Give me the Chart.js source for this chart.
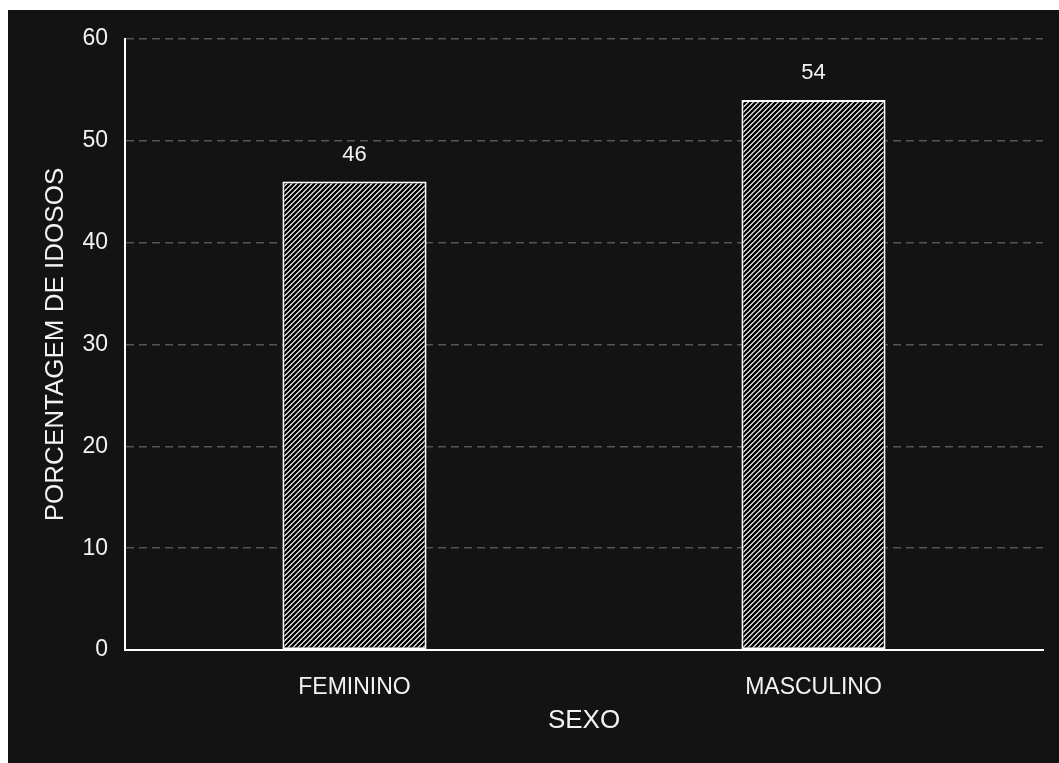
<!DOCTYPE html>
<html>
<head>
<meta charset="utf-8">
<script src="https://cdn.jsdelivr.net/npm/chart.js@4/dist/chart.umd.min.js"></script>
<style>
  html, body { margin: 0; padding: 0; background: #ffffff; }
  #wrap {
    position: absolute;
    left: 8px;
    top: 10px;
    width: 1051px;
    height: 753px;
    background: #131313;
  }
  #chart { display: block; }
</style>
</head>
<body>
<div id="wrap"><canvas id="chart" width="1051" height="753"></canvas></div>
<script>
var categories = ['FEMININO', 'MASCULINO'];
var percentages = [46, 54];
var yTicks = [0, 10, 20, 30, 40, 50, 60];
var xTitle = 'SEXO';
var yTitle = 'PORCENTAGEM DE IDOSOS';

var FONT = '"Liberation Sans", Arial, sans-serif';
var TEXT = '#f2f2f2';

// diagonal black-on-white hatch used to fill the bars
function makeHatch() {
  var size = 5;
  var c = document.createElement('canvas');
  c.width = size;
  c.height = size;
  var g = c.getContext('2d');
  g.fillStyle = '#ffffff';
  g.fillRect(0, 0, size, size);
  g.strokeStyle = '#000000';
  g.lineWidth = 2.3;
  g.beginPath();
  g.moveTo(-1, size + 1);
  g.lineTo(size + 1, -1);
  g.moveTo(-1, 1);
  g.lineTo(1, -1);
  g.moveTo(size - 1, size + 1);
  g.lineTo(size + 1, size - 1);
  g.stroke();
  return g.createPattern(c, 'repeat');
}

// value written above each bar
var barValues = {
  id: 'barValues',
  afterDatasetsDraw: function (chart) {
    var ctx = chart.ctx;
    var meta = chart.getDatasetMeta(0);
    ctx.save();
    ctx.font = '22px ' + FONT;
    ctx.fillStyle = TEXT;
    ctx.textAlign = 'center';
    ctx.textBaseline = 'alphabetic';
    meta.data.forEach(function (bar, i) {
      ctx.fillText(String(percentages[i]), bar.x, bar.y - 21);
    });
    ctx.restore();
  }
};

var ctx = document.getElementById('chart').getContext('2d');
new Chart(ctx, {
  type: 'bar',
  data: {
    labels: categories,
    datasets: [{
      data: percentages,
      backgroundColor: makeHatch(),
      borderColor: '#ffffff',
      borderWidth: 2,
      borderSkipped: false,
      categoryPercentage: 1,
      barPercentage: 0.314
    }]
  },
  options: {
    responsive: false,
    animation: false,
    layout: { padding: { top: 29, right: 16, left: 0, bottom: 0 } },
    plugins: {
      legend: { display: false },
      tooltip: { enabled: false }
    },
    scales: {
      x: {
        grid: { display: false },
        border: { display: true, color: '#ffffff', width: 2 },
        ticks: {
          color: TEXT,
          padding: 16,
          font: { family: FONT, size: 23 }
        },
        title: {
          display: true,
          text: xTitle,
          color: TEXT,
          font: { family: FONT, size: 26 },
          padding: { top: 0, bottom: 27 }
        },
        afterFit: function (scale) { scale.height = 113; }
      },
      y: {
        min: 0,
        max: 60,
        afterBuildTicks: function (scale) {
          scale.ticks = yTicks.map(function (v) { return { value: v }; });
        },
        grid: {
          drawTicks: false,
          color: function (c) { return c.tick && c.tick.value === 0 ? 'rgba(0,0,0,0)' : '#555555'; },
          lineWidth: 1.5
        },
        border: { display: true, color: '#ffffff', width: 2, dash: [8, 5] },
        ticks: {
          color: TEXT,
          padding: 17,
          font: { family: FONT, size: 23 }
        },
        title: {
          display: true,
          text: yTitle,
          color: TEXT,
          font: { family: FONT, size: 26 },
          padding: { top: 32, bottom: 0 }
        },
        afterFit: function (scale) {
          scale.width = 117;
          scale.paddingTop = 0;
          scale.paddingBottom = 0;
        }
      }
    }
  },
  plugins: [barValues]
});
</script>
</body>
</html>
